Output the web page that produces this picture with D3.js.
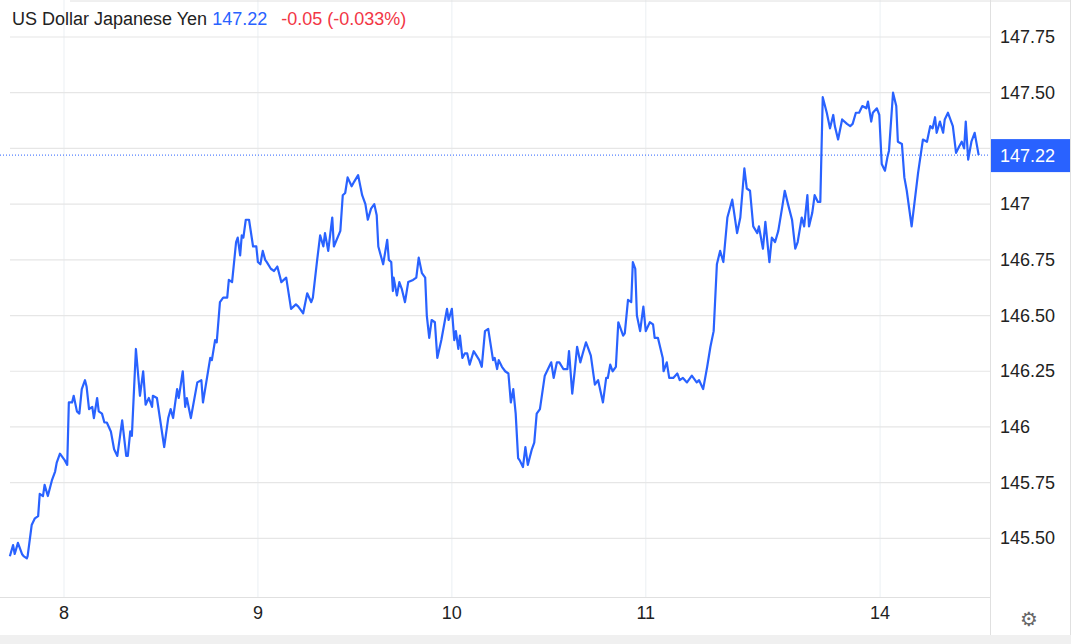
<!DOCTYPE html>
<html><head><meta charset="utf-8">
<script src="https://cdn.jsdelivr.net/npm/d3@7"></script>
<style>body{margin:0;background:#fff;font-family:"Liberation Sans",Arial,sans-serif}</style>
</head><body><svg id="c" width="1071" height="644"></svg>
<script>
// hours of trading time since day 8 00:00
const hours = [-6.7,-6.3,-6.1,-5.7,-5.2,-5.0,-4.6,-4.5,-4.0,-3.6,-3.2,-3.0,-2.6,-2.4,-2.0,-1.5,-1.1,-0.9,-0.5,0.1,0.4,0.6,1.0,1.2,1.6,1.9,2.2,2.6,2.8,3.1,3.5,3.7,4.1,4.3,4.7,5.0,5.3,5.8,6.2,6.6,7.2,7.7,7.9,8.2,8.4,8.9,9.4,9.8,10.1,10.5,10.9,11.0,11.5,12.4,12.9,13.2,13.5,14.0,14.2,14.7,15.0,15.2,15.7,16.5,17.0,17.2,18.1,18.3,18.7,18.9,19.3,19.7,20.2,20.4,20.8,21.3,21.5,21.8,22.0,22.2,22.5,22.9,23.4,23.8,24.0,24.3,24.6,24.9,25.1,25.6,26.0,26.4,26.9,27.5,28.1,28.7,29.0,29.6,30.1,30.6,30.8,31.3,31.7,32.1,32.3,32.7,33.2,33.4,34.2,34.5,34.8,35.1,35.6,35.9,36.4,36.9,37.3,37.6,38.0,38.4,38.7,38.9,39.5,40.0,40.2,40.5,40.7,40.8,41.2,41.5,41.8,42.2,42.6,43.2,43.6,43.9,44.3,44.7,44.9,45.2,45.5,45.9,46.2,46.7,47.2,47.4,47.6,48.0,48.3,48.5,48.8,49.0,49.3,49.6,49.9,50.2,50.7,51.4,51.7,52.1,52.5,53.1,53.3,53.6,53.8,54.2,54.6,55.0,55.3,55.6,55.9,56.2,56.4,56.8,57.1,57.4,57.9,58.2,58.5,58.9,59.5,59.9,60.3,60.6,61.0,61.3,61.8,62.3,62.5,62.9,63.2,63.5,63.9,64.2,64.6,64.9,65.2,65.7,66.1,66.7,67.1,67.3,67.6,67.9,68.3,68.6,69.2,69.4,69.8,70.2,70.4,70.7,70.9,71.3,71.7,72.0,72.5,72.9,73.1,73.5,74.1,74.2,74.6,74.9,75.4,75.9,76.2,76.6,77.1,77.7,78.3,78.6,79.1,79.6,80.0,80.4,80.8,81.2,81.6,82.1,82.7,83.3,83.7,84.2,84.5,84.9,85.3,85.8,86.0,86.5,86.8,87.3,87.6,88.0,88.4,88.9,89.2,89.6,90.1,90.5,90.8,91.3,91.6,92.0,92.2,92.6,92.9,93.3,93.6,93.9,94.4,94.8,95.2,95.4,95.8,96.3,96.9,97.3,97.6,98.0,98.4,98.8,99.3,99.5,99.9,100.1,100.6,100.9,101.2,101.6,101.9,102.1,102.6,103.0,103.2,103.7,104.0,104.3,104.9,105.3,105.7,106.3,106.8,107.2,107.5,107.8,108.0,108.4,108.8,109.0,109.4,110.0,110.4,110.8,111.1,111.4,111.6,111.9,112.3,112.7,113.2];
const prices = [145.42,145.47,145.43,145.48,145.43,145.42,145.41,145.42,145.56,145.59,145.60,145.70,145.69,145.74,145.69,145.76,145.80,145.84,145.88,145.85,145.83,146.11,146.11,146.14,146.07,146.06,146.17,146.21,146.18,146.08,146.09,146.04,146.13,146.07,146.06,146.02,146.02,145.98,145.90,145.87,146.03,145.87,145.87,145.98,145.96,146.35,146.14,146.25,146.10,146.13,146.09,146.14,146.13,145.91,146.04,146.08,146.04,146.17,146.13,146.25,146.09,146.13,146.04,146.20,146.21,146.11,146.31,146.30,146.39,146.38,146.56,146.58,146.58,146.66,146.65,146.83,146.85,146.77,146.86,146.85,146.93,146.93,146.81,146.81,146.74,146.73,146.79,146.75,146.74,146.71,146.70,146.72,146.65,146.67,146.53,146.55,146.54,146.51,146.60,146.56,146.58,146.74,146.86,146.81,146.87,146.79,146.94,146.81,146.88,147.04,147.05,147.12,147.08,147.10,147.13,147.04,147.00,146.93,146.98,147.00,146.95,146.81,146.73,146.84,146.75,146.74,146.61,146.67,146.59,146.65,146.62,146.56,146.65,146.66,146.67,146.76,146.69,146.67,146.50,146.40,146.48,146.47,146.31,146.39,146.49,146.53,146.48,146.53,146.39,146.43,146.35,146.41,146.31,146.33,146.33,146.28,146.34,146.30,146.27,146.43,146.44,146.30,146.31,146.26,146.30,146.27,146.25,146.24,146.11,146.17,146.06,145.86,145.85,145.82,145.91,145.83,145.90,145.93,146.06,146.08,146.23,146.26,146.29,146.22,146.29,146.29,146.26,146.26,146.34,146.15,146.25,146.36,146.29,146.33,146.38,146.35,146.32,146.19,146.21,146.11,146.22,146.22,146.28,146.25,146.27,146.47,146.41,146.42,146.57,146.56,146.74,146.71,146.50,146.43,146.54,146.43,146.47,146.46,146.40,146.40,146.31,146.25,146.29,146.22,146.22,146.24,146.21,146.22,146.20,146.23,146.20,146.21,146.17,146.27,146.36,146.43,146.73,146.79,146.74,146.94,147.02,146.87,146.94,147.16,147.07,147.06,146.90,146.87,146.90,146.80,146.92,146.74,146.85,146.83,146.88,146.99,147.06,147.00,146.93,146.80,146.83,146.94,146.90,147.04,146.90,146.96,147.04,147.01,147.01,147.48,147.41,147.34,147.40,147.35,147.29,147.38,147.36,147.35,147.36,147.41,147.41,147.44,147.43,147.46,147.37,147.41,147.43,147.40,147.18,147.15,147.21,147.24,147.50,147.44,147.28,147.27,147.12,147.06,146.90,147.02,147.14,147.29,147.28,147.35,147.34,147.39,147.32,147.37,147.32,147.38,147.41,147.35,147.23,147.26,147.28,147.25,147.37,147.20,147.28,147.32,147.22];
const xTickHours = [0,24,48,72,101];
const xTickLabels = ["8","9","10","11","14"];
const yTicks = [145.5,145.75,146,146.25,146.5,146.75,147,147.25,147.5,147.75];
const yTickLabels = ["145.50","145.75","146","146.25","146.50","146.75","147","","147.50","147.75"];
const lastPrice = 147.22;

const svg = d3.select("#c");
const W=990, H=597;
const x = d3.scaleLinear().domain([-7.92,114.6]).range([0,W]);
const y = d3.scaleLinear().domain([145.237,147.916]).range([H,0]);
const blue="#2962ff";

svg.append("g").selectAll("line").data(xTickHours).join("line")
 .attr("x1",d=>x(d)).attr("x2",d=>x(d)).attr("y1",0).attr("y2",H)
 .attr("stroke","#eef2f5").attr("stroke-width",1.2);
svg.append("g").selectAll("line").data(yTicks).join("line")
 .attr("x1",10).attr("x2",W).attr("y1",d=>y(d)).attr("y2",d=>y(d))
 .attr("stroke","#e6e6e6").attr("stroke-width",1.2);
svg.append("line").attr("x1",70).attr("x2",1071).attr("y1",1).attr("y2",1).attr("stroke","#e0e0e0");
svg.append("line").attr("x1",W+0.5).attr("x2",W+0.5).attr("y1",0).attr("y2",635).attr("stroke","#e0e0e0");
svg.append("line").attr("x1",0).attr("x2",W).attr("y1",H+0.5).attr("y2",H+0.5).attr("stroke","#e0e0e0");
svg.append("line").attr("x1",1070.5).attr("x2",1070.5).attr("y1",0).attr("y2",635).attr("stroke","#e0e0e0");
svg.append("rect").attr("x",0).attr("y",635).attr("width",1071).attr("height",9).attr("fill","#f0f0f0");

svg.append("g").selectAll("text").data(yTicks.map((d,i)=>[d,yTickLabels[i]]).filter(d=>d[1])).join("text")
 .attr("x",1000).attr("y",d=>y(d[0])+6).text(d=>d[1])
 .attr("font-size",18).attr("fill","#222");
svg.append("g").selectAll("text").data(xTickHours.map((d,i)=>[d,xTickLabels[i]])).join("text")
 .attr("x",d=>x(d[0])).attr("y",619).attr("text-anchor","middle").text(d=>d[1])
 .attr("font-size",18).attr("fill","#222");

const line = d3.line().x((d,i)=>x(hours[i])).y(d=>y(d));
svg.append("path").datum(prices).attr("d",line).attr("fill","none")
 .attr("stroke",blue).attr("stroke-width",2.2).attr("stroke-linejoin","round");

svg.append("line").attr("x1",0).attr("x2",W).attr("y1",y(lastPrice)).attr("y2",y(lastPrice))
 .attr("stroke",blue).attr("stroke-width",1).attr("stroke-dasharray","1,2");
svg.append("rect").attr("x",W+1).attr("y",y(lastPrice)-16).attr("width",79).attr("height",33).attr("fill",blue);
svg.append("text").attr("x",1000).attr("y",y(lastPrice)+7).text(lastPrice.toFixed(2))
 .attr("font-size",18).attr("fill","#fff");

const t = svg.append("text").attr("x",12).attr("y",25).attr("font-size",18);
t.append("tspan").attr("fill","#222").text("US Dollar Japanese Yen ");
t.append("tspan").attr("fill",blue).text("147.22");
t.append("tspan").attr("fill","#f23645").attr("dx",14).text("-0.05 (-0.033%)");

svg.append("text").attr("x",1029).attr("y",626).attr("text-anchor","middle")
 .attr("font-family","DejaVu Sans").attr("font-size",20).attr("fill","#666").text("⚙");
</script></body></html>
